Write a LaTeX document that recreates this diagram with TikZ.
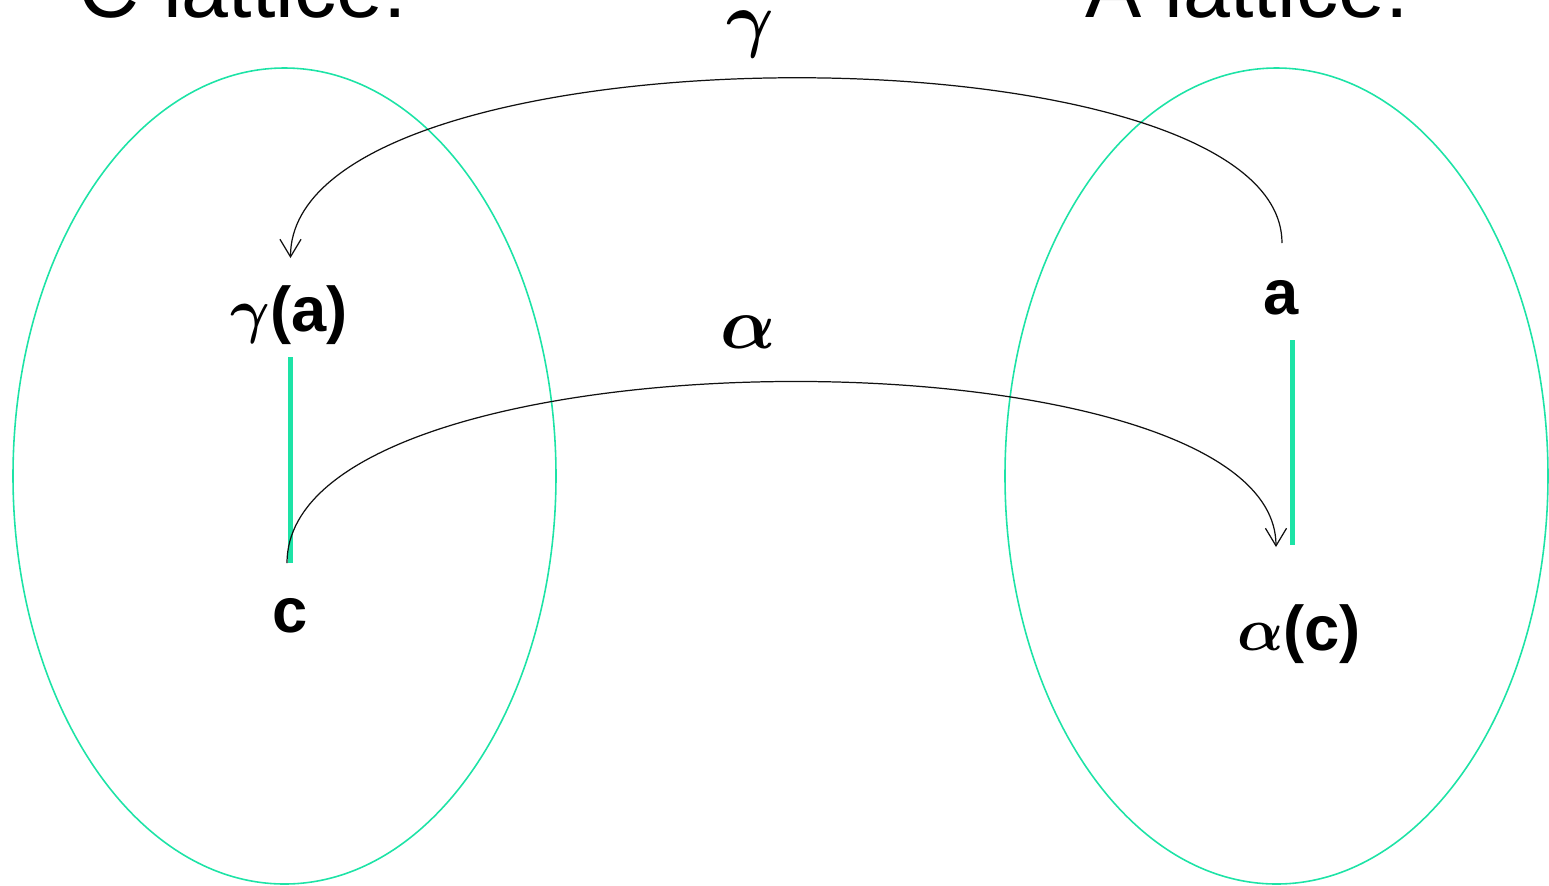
\documentclass[tikz,border=0pt]{standalone}
\usepackage{amsmath}
\usepackage{fontspec}
\setmainfont{Liberation Sans}
\usetikzlibrary{arrows.meta,shapes.geometric}
\definecolor{latGreen}{HTML}{1DE3A6}
\definecolor{latInk}{HTML}{111111}
\newcommand{\grk}[1]{$\boldsymbol{#1}$}
\tikzset{
  latset/.style={ellipse,draw=latGreen,line width=0.45pt,
    minimum width=5.43cm,minimum height=8.16cm,inner sep=0pt},
  elem/.style={font=\fontsize{18}{20}\selectfont\bfseries,
    inner sep=0pt,text=black},
  title/.style={font=\fontsize{24}{28}\selectfont,anchor=base,
    inner sep=0pt,text=black},
  order/.style={draw=latGreen,line width=1.4pt},
  map/.style={-{Straight Barb[length=5pt,width=6pt]},
    line width=0.35pt,color=latInk},
  maplbl/.style={font=\fontsize{20}{22}\selectfont,inner sep=0pt},
}
\begin{document}
\begin{tikzpicture}
  \useasboundingbox (0,0) rectangle (15.49,-8.85);

  % the two lattices
  \node[latset] (cset) at (2.845,-4.76) {};
  \node[latset] (aset) at (12.765,-4.76) {};
  \node[title] (ctitle) at (2.43,-0.17) {C lattice:};
  \node[title] (atitle) at (12.47,-0.17) {A lattice:};

  % elements
  \node[elem] (ga) at (2.89,-3.15) {\grk{\gamma}(a)};
  \node[elem] (c) at (2.90,-6.16) {c};
  \node[elem] (a) at (12.81,-2.975) {a};
  \node[elem] (ac) at (12.99,-6.34) {\grk{\alpha}(c)};

  % order in each lattice
  \draw[order] (2.905,-3.57) -- (2.905,-5.63);
  \draw[order] (12.925,-3.40) -- (12.925,-5.45);

  % the maps
  \coordinate (gtail) at (12.82,-2.43);
  \coordinate (ghead) at (2.905,-2.58);
  \coordinate (ctail) at (2.87,-5.63);
  \coordinate (ahead) at (12.76,-5.47);

  \draw[map] (gtail) .. controls +(0,2.225) and +(0,2.375) .. (ghead);
  \draw[map] (ctail) .. controls +(0,2.39) and +(0,2.23) .. (ahead);

  \node[maplbl] (glbl) at (7.50,-0.345) {\grk{\gamma}};
  \node[maplbl] (albl) at (7.48,-3.32) {\grk{\alpha}};
\end{tikzpicture}
\end{document}
